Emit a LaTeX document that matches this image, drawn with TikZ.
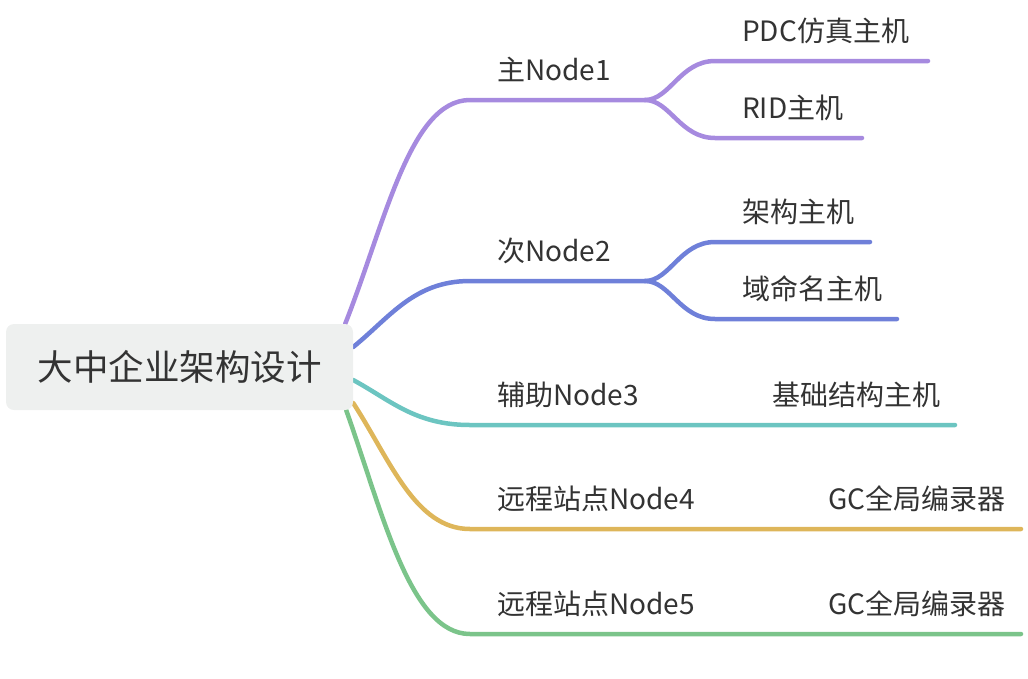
\documentclass[tikz,border=0pt]{standalone}
\usepackage{fontspec}
\setmainfont{Noto Sans CJK SC}
\usetikzlibrary{backgrounds}

\definecolor{purp}{HTML}{A68ADF}
\definecolor{blu}{HTML}{6F80D9}
\definecolor{tealc}{HTML}{6CC5C1}
\definecolor{yell}{HTML}{DEB65A}
\definecolor{gree}{HTML}{7BC48A}
\definecolor{ink}{HTML}{333333}
\definecolor{rootgray}{HTML}{EEF0EF}

\tikzset{
    branch/.style={line width=4.5pt, line cap=round},
    topic/.style={anchor=base west, inner sep=0pt, text=ink, font=\fontsize{28}{28}\selectfont},
}

\begin{document}
\begin{tikzpicture}[x=1pt, y=-1pt]
    \useasboundingbox (0,0) rectangle (1028,678);

    %% Mind map of the enterprise architecture

    % Root
    \node[fill=rootgray, rounded corners=8pt, minimum width=347pt, minimum height=86pt,
          inner sep=0pt, text=ink, font=\fontsize{35.5}{35.5}\selectfont] (root) at (179.5,367) {大中企业架构设计};

    % Topics
    \node[topic] (n1) at (497,80) {主Node1};
    \node[topic] (n2) at (497,261) {次Node2};
    \node[topic] (n3) at (497,405) {辅助Node3};
    \node[topic] (n4) at (497,509) {远程站点Node4};
    \node[topic] (n5) at (497,614) {远程站点Node5};

    % Subtopics
    \node[topic] (pdc) at (742,41) {PDC仿真主机};
    \node[topic] (rid) at (742,118) {RID主机};
    \node[topic] (arch) at (742,222) {架构主机};
    \node[topic] (dns) at (742,299) {域命名主机};
    \node[topic] (infra) at (772,405) {基础结构主机};
    \node[topic] (gc4) at (828,509) {GC全局编录器};
    \node[topic] (gc5) at (828,614) {GC全局编录器};

    % Line ends
    \coordinate (p1) at (470,100);  \coordinate (s1) at (645,100);
    \coordinate (q11) at (715,61);  \coordinate (e11) at (928,61);
    \coordinate (q12) at (715,138); \coordinate (e12) at (862,138);
    \coordinate (p2) at (470,281);  \coordinate (s2) at (645,281);
    \coordinate (q21) at (715,242); \coordinate (e21) at (870,242);
    \coordinate (q22) at (715,319); \coordinate (e22) at (897,319);
    \coordinate (p3) at (470,425);  \coordinate (e3) at (955,425);
    \coordinate (p4) at (470,529);  \coordinate (e4) at (1021,529);
    \coordinate (p5) at (470,634);  \coordinate (e5) at (1021,634);

    \begin{scope}[on background layer]
        % Branch 1
        \draw[branch, purp] ([xshift=-8pt]root.north east) .. controls +(40,-101) and +(-60,0) .. (p1) -- (s1);
        \draw[branch, purp] (s1) .. controls +(25,0) and +(-35,0) .. (q11) -- (e11);
        \draw[branch, purp] (s1) .. controls +(25,0) and +(-35,0) .. (q12) -- (e12);

        % Branch 2
        \draw[branch, blu] ([yshift=20pt]root.east) .. controls +(37,-30) and +(-56,0) .. (p2) -- (s2);
        \draw[branch, blu] (s2) .. controls +(25,0) and +(-35,0) .. (q21) -- (e21);
        \draw[branch, blu] (s2) .. controls +(25,0) and +(-35,0) .. (q22) -- (e22);

        % Branch 3
        \draw[branch, tealc] ([yshift=-13pt]root.east) .. controls +(37,20) and +(-55,0) .. (p3) -- (e3);

        % Branch 4
        \draw[branch, yell] ([yshift=-36pt]root.east) .. controls +(37,57) and +(-55,0) .. (p4) -- (e4);

        % Branch 5
        \draw[branch, gree] ([xshift=-7pt]root.south east) .. controls +(36,101) and +(-60,0) .. (p5) -- (e5);
    \end{scope}

\end{tikzpicture}
\end{document}
